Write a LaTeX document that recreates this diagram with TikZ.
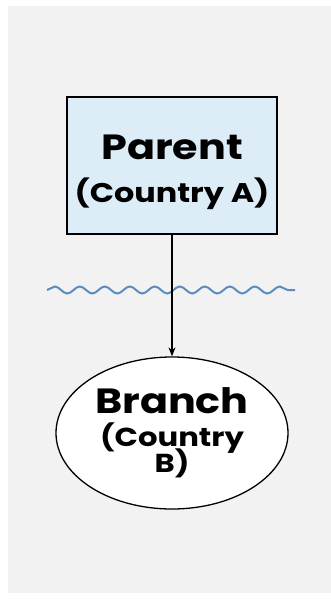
\documentclass[tikz,border=0pt]{standalone}
\usepackage{fontspec}
\setmainfont{Poppins}[FakeStretch=1.18]
\usetikzlibrary{shapes,decorations.pathmorphing,arrows.meta}
\definecolor{panelgray}{HTML}{F2F2F2}
\definecolor{boxblue}{HTML}{DCEDF8}
\definecolor{wavecol}{HTML}{5B8CBE}
\newcommand{\tightlines}{\setlength{\lineskiplimit}{-20pt}}
\tikzstyle{parentbox}=[rectangle,draw=black,fill=boxblue,line width=1.5pt,
minimum width=210pt,minimum height=137pt,align=center,inner sep=0pt,
font={\bfseries\fontsize{27}{30}\selectfont}]
\tikzstyle{branchell}=[ellipse,draw=black,fill=white,line width=1.3pt,
minimum width=232pt,minimum height=152pt,align=center,inner sep=0pt,
font={\bfseries\fontsize{26}{26}\selectfont\tightlines}]
\tikzstyle{wave}=[wavecol,line width=2pt,decorate,
decoration={snake,segment length=25pt,amplitude=3.5pt}]

\begin{document}
\begin{tikzpicture}[x=1pt,y=-1pt]
        \fill[white] (0,0) rectangle (331,607);
        \fill[panelgray] (8,6) rectangle (331,593);
        \node [style=parentbox] (par) at (172,165.5) {\rule{0pt}{38pt}{\fontsize{35}{40}\selectfont Parent}\\[13pt](Country A)};
        \node [style=branchell] (br) at (172,433) {{\fontsize{35}{40}\selectfont Branch}\\[7pt](Country\\B)};
        \coordinate (wl) at (47,290);
        \coordinate (wr) at (295,290);
        \draw [style=wave] (wl) to (wr);
        \draw [-{Stealth[length=9pt,width=7pt]},line width=1.2pt] (par) to (br);
    \end{tikzpicture}
\end{document}
